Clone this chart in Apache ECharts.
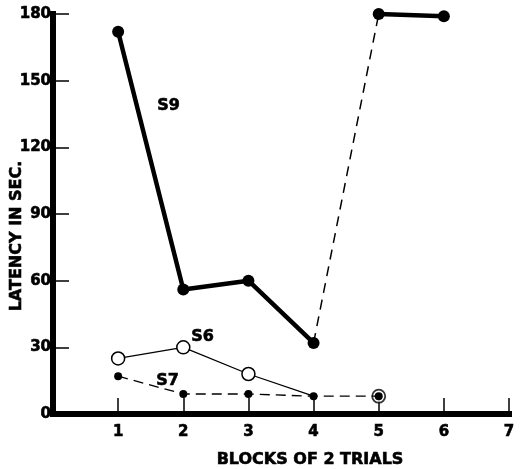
<!DOCTYPE html>
<html>
<head>
<meta charset="utf-8">
<script src="https://cdn.jsdelivr.net/npm/echarts@6/dist/echarts.min.js"></script>
<style>
  html, body { margin: 0; padding: 0; background: #fff; }
  #chart { width: 521px; height: 469px; }
</style>
</head>
<body>
<div id="chart"></div>
<script>
// Latency per block of 2 trials for three subjects
const blocks = [1, 2, 3, 4, 5, 6];
const s9 = [172, 56, 60, 32, 180, 179];
const s6 = [25, 30, 18, 8, 8];
const s7 = [17, 9, 9, 8, 8];
const xTicks = [0, 1, 2, 3, 4, 5, 6, 7];
const yTicks = [0, 30, 60, 90, 120, 150, 180];

const FONT = 'DejaVu Sans';
const INK = '#000';
// heavy lettering: bold face plus a thin outline in the same ink
const heavy = { fontFamily: FONT, fontWeight: 'bold', color: INK, textBorderColor: INK, textBorderWidth: 0.6 };

const pairs = (vals, from, to) =>
  vals.slice(from, to).map((v, i) => [blocks[from + i], v]);

const chart = echarts.init(document.getElementById('chart'), null, { renderer: 'canvas' });

const tag = (text, left, top) => ({
  type: 'text', left, top,
  style: { text, fontFamily: FONT, fontWeight: 'bold', fontSize: 16, fill: INK, stroke: INK, lineWidth: 0.6 }
});

chart.setOption({
  backgroundColor: '#fff',
  animation: false,
  grid: { left: 53, right: 12, top: 14, bottom: 55, containLabel: false, outerBoundsMode: 'none' },
  xAxis: {
    type: 'value',
    min: xTicks[0],
    max: xTicks[xTicks.length - 1],
    interval: 1,
    name: 'BLOCKS OF 2 TRIALS',
    nameLocation: 'middle',
    nameGap: 38,
    nameMoveOverlap: false,
    nameTextStyle: Object.assign({}, heavy, { fontSize: 16, padding: [0, 0, 0, 58] }),
    axisLine: { lineStyle: { color: INK, width: 6, cap: 'square' } },
    axisTick: { inside: true, length: 16, lineStyle: { color: INK, width: 1.5 } },
    axisLabel: Object.assign({}, heavy, {
      margin: 11,
      fontSize: 15,
      formatter: v => (v === 0 ? '' : String(v))
    }),
    splitLine: { show: false }
  },
  yAxis: {
    type: 'value',
    min: yTicks[0],
    max: yTicks[yTicks.length - 1],
    interval: 30,
    name: 'LATENCY IN SEC.',
    nameLocation: 'middle',
    nameRotate: 90,
    nameGap: 28,
    nameMoveOverlap: false,
    nameTextStyle: Object.assign({}, heavy, { fontSize: 16, padding: [0, 44, 0, 0] }),
    axisLine: { lineStyle: { color: INK, width: 6, cap: 'square' } },
    axisTick: { inside: true, length: 16, lineStyle: { color: INK, width: 1.5 } },
    axisLabel: Object.assign({}, heavy, { margin: 2, fontSize: 15 }),
    splitLine: { show: false }
  },
  graphic: [
    tag('S9', 157, 98),
    tag('S6', 191, 329),
    tag('S7', 156, 373)
  ],
  series: [
    // S9: dashed jump between blocks 4 and 5
    {
      name: 'S9 jump', type: 'line', data: pairs(s9, 3, 5),
      symbol: 'none',
      lineStyle: { color: INK, width: 1.5, type: [10, 7] },
      z: 2
    },
    // S9: blocks 1-4, heavy solid line
    {
      name: 'S9', type: 'line', data: pairs(s9, 0, 4),
      symbol: 'circle', symbolSize: 12,
      itemStyle: { color: INK },
      lineStyle: { color: INK, width: 4.5 },
      z: 3
    },
    // S9: blocks 5-6, heavy solid line
    {
      name: 'S9 late', type: 'line', data: pairs(s9, 4, 6),
      symbol: 'circle', symbolSize: 12,
      itemStyle: { color: INK },
      lineStyle: { color: INK, width: 4.5 },
      z: 3
    },
    // S6: open circles, thin solid line through block 4
    {
      name: 'S6', type: 'line',
      data: pairs(s6, 0, 4).map((p, i) => (i === 3 ? { value: p, symbol: 'none' } : p)),
      symbol: 'circle', symbolSize: 13,
      itemStyle: { color: '#fff', borderColor: INK, borderWidth: 1.5 },
      lineStyle: { color: INK, width: 1.3 },
      z: 4
    },
    // S6: unconnected open circle at block 5
    {
      name: 'S6 end', type: 'scatter', data: pairs(s6, 4, 5),
      symbol: 'circle', symbolSize: 13,
      itemStyle: { color: '#fff', borderColor: INK, borderWidth: 1.8 },
      z: 4
    },
    // S7: small filled dots, dashed line
    {
      name: 'S7', type: 'line', data: pairs(s7, 0, 5),
      symbol: 'circle', symbolSize: 8,
      itemStyle: { color: INK },
      lineStyle: { color: INK, width: 1.3, type: [10, 6] },
      z: 5
    }
  ]
});
</script>
</body>
</html>
